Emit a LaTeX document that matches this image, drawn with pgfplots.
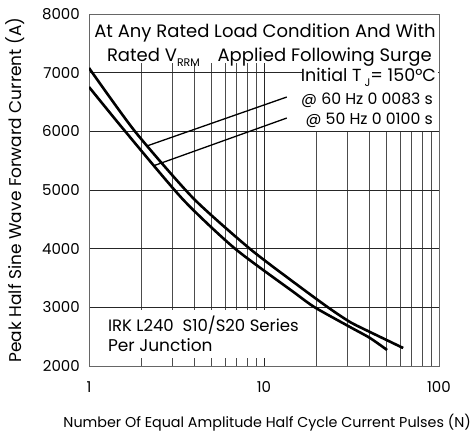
\documentclass[border=0pt]{standalone}
\usepackage{fontspec}
\setmainfont{Poppins}
\usepackage{pgfplots}
\pgfplotsset{compat=1.18}
\begin{document}
\begin{tikzpicture}[x=1pt,y=1pt]
\useasboundingbox (-89,-65) rectangle (384,366);
\begin{axis}[
  at={(0,0)}, anchor=south west,
  scale only axis, width=350pt, height=352pt,
  xmode=log, log basis x=10,
  xmin=1, xmax=100, ymin=2000, ymax=8000,
  xtick={1,10,100}, xticklabels={1,10,100},
  minor xtick={2,3,4,5,6,7,8,9,20,30,40,50,60,70,80,90},
  ytick={2000,3000,4000,5000,6000,7000,8000},
  scaled y ticks=false,
  /pgf/number format/assume math mode=true,
  /pgf/number format/1000 sep={},
  /pgf/number format/fixed,
  grid=both,
  major grid style={black!85, line width=0.8pt},
  minor grid style={black!70, line width=0.8pt},
  tick style={draw=none},
  axis line style={black!60, line width=1pt},
  ticklabel style={font=\fontsize{15}{15}\selectfont},
  yticklabel style={anchor=east, inner sep=0pt, xshift=-9pt},
  xticklabel style={anchor=north, inner sep=0pt, yshift=-15pt},
  xlabel={Number Of Equal Amplitude Half Cycle Current Pulses (N)},
  ylabel={Peak Half Sine Wave Forward Current (A)},
  xlabel style={font=\fontsize{14.3}{14.3}\selectfont, at={(rel axis cs:0.509,-0.160)}, anchor=center, inner sep=0pt},
  ylabel style={font=\fontsize{17}{17}\selectfont, at={(rel axis cs:-0.211,0.5)}, anchor=center, inner sep=0pt, rotate=0},
]
% white areas behind annotations
\fill[white] (axis cs:1.02,7165) rectangle (axis cs:98.5,7985);
\fill[white] (axis cs:16.5,6010) rectangle (axis cs:98.5,7165);
\fill[white] (axis cs:1.16,2140) rectangle (axis cs:16,2960);

% curves
\addplot[black, line width=2.6pt, smooth, tension=0.4] coordinates {
(1,7080) (1.83,6000) (3.93,4864) (8.29,4000) (15,3414) (23.2,3000) (31,2750) (40.3,2580) (62.4,2307)};
\addplot[black, line width=2.6pt, smooth, tension=0.4] coordinates {
(1,6756) (1.61,6000) (3.44,4840) (6.83,4000) (15,3245) (19.5,3000) (31,2665) (40.3,2478) (50.5,2273)};

% leader lines
\addplot[black, line width=1.3pt] coordinates {(2.14,5750) (13.5,6585)};
\addplot[black, line width=1.3pt] coordinates {(2.32,5409) (13.5,6227)};

% annotations
\node[anchor=base, inner sep=0pt, font=\fontsize{18}{18}\selectfont] at (rel axis cs:0.503,0.932) {At Any Rated Load Condition And With};
\node[anchor=base west, inner sep=0pt, font=\fontsize{18}{18}\selectfont] at (rel axis cs:0.051,0.866) {Rated V\raisebox{-0.3em}{\fontsize{11}{11}\selectfont RRM}};
\node[anchor=base east, inner sep=0pt, font=\fontsize{18}{18}\selectfont] at (rel axis cs:0.98,0.866) {Applied Following Surge};
\node[anchor=base east, inner sep=0pt, font=\fontsize{17.5}{17.5}\selectfont] at (rel axis cs:0.992,0.808) {Initial T\,\raisebox{-0.3em}{\fontsize{11}{11}\selectfont J}= 150°C};
\node[anchor=base east, inner sep=0pt, font=\fontsize{15.7}{15.7}\selectfont] at (rel axis cs:0.983,0.7415) {@ 60 Hz 0 0083 s};
\node[anchor=base east, inner sep=0pt, font=\fontsize{15.7}{15.7}\selectfont] at (rel axis cs:0.983,0.6847) {@ 50 Hz 0 0100 s};
\node[anchor=base west, inner sep=0pt, font=\fontsize{16.5}{16.5}\selectfont] at (rel axis cs:0.054,0.0966) {IRK L240\ \ S10/S20 Series};
\node[anchor=base west, inner sep=0pt, font=\fontsize{17}{17}\selectfont] at (rel axis cs:0.054,0.0426) {Per Junction};
\end{axis}
\end{tikzpicture}
\end{document}
